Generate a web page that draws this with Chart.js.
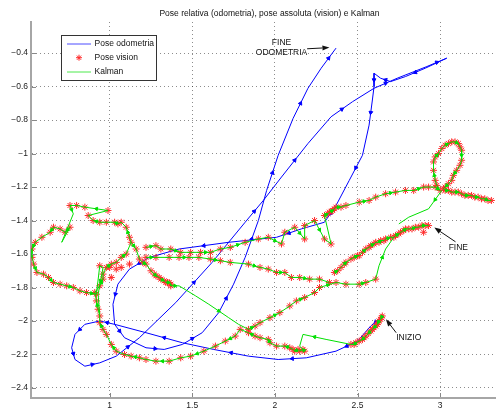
<!DOCTYPE html>
<html lang="it">
<head>
<meta charset="UTF-8">
<title>Pose relativa, pose assoluta e Kalman</title>
<script src="https://cdn.jsdelivr.net/npm/chart.js"></script>
<style>
    body { margin: 0; background: #fff; }
    #wrap { width: 500px; height: 413px; }
</style>
</head>
<body>
<div id="wrap"><canvas id="poseChart" width="500" height="413"></canvas></div>
<script>
// axis ticks
var xTicks = [1, 1.5, 2, 2.5, 3];
var yTicks = [-0.4, -0.6, -0.8, -1, -1.2, -1.4, -1.6, -1.8, -2, -2.2, -2.4];

// odometry (blue), from INIZIO to FINE ODOMETRIA
var odoX = [2.64, 2.58, 2.50, 2.37, 2.19, 2.02, 1.84, 1.63, 1.44, 1.22, 1.03, 0.94, 0.85, 0.79, 0.77, 0.79, 0.85, 0.94, 1.04, 1.18,
            1.40, 1.62, 1.82, 1.93, 2.04, 2.20, 2.34, 2.47, 2.60, 2.74, 2.92, 3.04, 2.91, 2.79, 2.70, 2.64, 2.60, 2.60, 2.59, 2.57,
            2.53, 2.45, 2.37, 2.30, 2.16, 2.01, 1.72, 1.42, 1.24, 1.12, 1.05, 1.02, 1.03, 1.09, 1.22, 1.33, 1.44, 1.56, 1.66, 1.75,
            1.82, 1.90, 1.95, 2.02, 2.11, 2.20, 2.28, 2.37];
var odoY = [-1.98, -2.03, -2.12, -2.18, -2.22, -2.23, -2.21, -2.17, -2.13, -2.07, -2.02, -2.00, -2.02, -2.08, -2.16, -2.23, -2.27, -2.25, -2.21, -2.10,
            -1.89, -1.65, -1.41, -1.28, -1.14, -0.94, -0.78, -0.69, -0.61, -0.55, -0.48, -0.43, -0.49, -0.54, -0.57, -0.55, -0.52, -0.60, -0.68, -0.83,
            -1.01, -1.16, -1.31, -1.41, -1.45, -1.50, -1.53, -1.57, -1.62, -1.69, -1.78, -1.90, -2.02, -2.10, -2.16, -2.17, -2.14, -2.07, -1.95, -1.78,
            -1.62, -1.40, -1.22, -1.01, -0.79, -0.61, -0.49, -0.37];

// vision poses (red stars), one pair of arrays per stretch
var startX = [2.65, 2.645, 2.64, 2.63, 2.625, 2.62, 2.61, 2.60, 2.59, 2.58, 2.565, 2.55, 2.54, 2.53, 2.51, 2.49, 2.48, 2.46];
var startY = [-1.97, -1.98, -1.99, -2.00, -2.01, -2.02, -2.03, -2.04, -2.05, -2.06, -2.075, -2.09, -2.10, -2.11, -2.12, -2.13, -2.14, -2.14];
var bottomMidX = [2.18, 2.17, 2.15, 2.14, 2.12, 2.11, 2.09, 2.06, 2.01, 1.97, 1.96, 1.91, 1.88, 1.84, 1.79];
var bottomMidY = [-2.18, -2.17, -2.18, -2.17, -2.18, -2.17, -2.16, -2.15, -2.15, -2.13, -2.11, -2.10, -2.09, -2.07, -2.05];
var uturnX = [1.76, 1.70, 1.64, 1.57, 1.49, 1.43, 1.36, 1.28, 1.22, 1.18, 1.13, 1.09, 1.04, 1.01, 0.98, 0.96, 0.94];
var uturnY = [-2.09, -2.12, -2.15, -2.18, -2.21, -2.22, -2.24, -2.24, -2.23, -2.22, -2.21, -2.20, -2.18, -2.14, -2.08, -2.05, -2.01];
var climbX = [0.94, 0.93, 0.92, 0.91, 0.94, 0.96, 0.96, 0.98, 1.01, 1.04, 1.07, 1.10];
var climbY = [-1.97, -1.93, -1.88, -1.83, -1.79, -1.75, -1.72, -1.68, -1.66, -1.65, -1.62, -1.60];
var topArcX = [0.90, 0.94, 0.98, 1.03, 1.05, 1.07, 1.10, 1.12, 1.13];
var topArcY = [-1.40, -1.41, -1.41, -1.41, -1.42, -1.41, -1.44, -1.50, -1.53];
var topLeftX = [0.76, 0.80, 0.85, 0.99, 0.87];
var topLeftY = [-1.31, -1.31, -1.32, -1.34, -1.37];
var leftX = [0.76, 0.73, 0.70, 0.66, 0.64, 0.59, 0.55, 0.53, 0.53, 0.54, 0.56, 0.60, 0.63];
var leftY = [-1.44, -1.47, -1.45, -1.44, -1.47, -1.50, -1.53, -1.57, -1.62, -1.66, -1.71, -1.72, -1.74];
var loopBottomX = [0.66, 0.70, 0.74, 0.78, 0.82, 0.86, 0.92];
var loopBottomY = [-1.77, -1.78, -1.79, -1.80, -1.82, -1.83, -1.84];
var looseX = [0.94, 1.00, 1.04, 1.07, 1.12, 1.01, 2.90];
var looseY = [-1.67, -1.68, -1.69, -1.68, -1.66, -1.74, -1.47];
var crossX = [1.16, 1.18, 1.20, 1.22, 1.25, 1.27, 1.28, 1.30, 1.31, 1.33, 1.34, 1.35, 1.36, 1.37, 1.37];
var crossY = [-1.57, -1.63, -1.65, -1.66, -1.70, -1.72, -1.73, -1.74, -1.75, -1.76, -1.77, -1.77, -1.77, -1.78, -1.79];
var riseX = [1.84, 1.88, 1.91, 1.97, 2.03, 2.09, 2.13, 2.18, 2.24, 2.27];
var riseY = [-2.05, -2.03, -2.01, -1.98, -1.95, -1.91, -1.88, -1.86, -1.83, -1.80];
var lowLeftX = [1.22, 1.28, 1.36, 1.42, 1.48, 1.54, 1.61, 1.67, 1.73, 1.84, 1.91, 1.96, 2.01, 2.06, 2.10, 2.15, 2.21, 2.27, 2.33];
var lowLeftY = [-1.62, -1.62, -1.62, -1.62, -1.62, -1.62, -1.63, -1.64, -1.65, -1.66, -1.68, -1.69, -1.71, -1.71, -1.74, -1.74, -1.75, -1.75, -1.77];
var lowRightX = [2.37, 2.43, 2.51, 2.55, 2.61];
var lowRightY = [-1.77, -1.78, -1.78, -1.77, -1.75];
var midX = [1.22, 1.28, 1.31, 1.37, 1.43, 1.49, 1.55, 1.61, 1.67, 1.73, 1.82, 1.90, 1.96, 2.04, 2.06, 2.12, 2.18, 2.18, 2.24, 2.30,
            2.34, 2.30, 2.32, 2.33, 2.34, 2.35, 2.36, 2.37, 2.40, 2.43, 2.51, 2.57, 2.61, 2.67, 2.73, 2.79, 2.84, 2.90, 2.93, 2.97];
var midY = [-1.56, -1.55, -1.57, -1.57, -1.59, -1.59, -1.59, -1.59, -1.57, -1.56, -1.53, -1.51, -1.50, -1.54, -1.47, -1.44, -1.51, -1.43, -1.40, -1.51,
            -1.54, -1.37, -1.36, -1.35, -1.345, -1.34, -1.33, -1.32, -1.32, -1.31, -1.29, -1.28, -1.26, -1.24, -1.23, -1.22, -1.22, -1.20, -1.20, -1.20];
var fineX = [2.36, 2.38, 2.40, 2.42, 2.43, 2.46, 2.48, 2.50, 2.51, 2.53, 2.55, 2.57, 2.58, 2.60, 2.61, 2.63, 2.64, 2.66, 2.67, 2.70,
             2.72, 2.73, 2.75, 2.76, 2.78, 2.79, 2.81, 2.83, 2.85, 2.87, 2.89, 2.91, 2.93];
var fineY = [-1.71, -1.70, -1.68, -1.66, -1.65, -1.63, -1.62, -1.61, -1.61, -1.59, -1.57, -1.56, -1.55, -1.54, -1.53, -1.53, -1.52, -1.52, -1.51, -1.50,
             -1.50, -1.49, -1.48, -1.47, -1.46, -1.45, -1.45, -1.45, -1.44, -1.44, -1.43, -1.43, -1.43];
var loopX = [3.00, 2.98, 2.97, 2.96, 2.96, 2.97, 2.99, 3.01, 3.03, 3.05, 3.07, 3.09, 3.11, 3.12, 3.13, 3.13, 3.12, 3.10, 3.08, 3.07, 3.05, 3.03];
var loopY = [-1.22, -1.19, -1.16, -1.10, -1.05, -1.02, -1.00, -0.97, -0.95, -0.94, -0.93, -0.93, -0.94, -0.96, -0.98, -1.04, -1.07, -1.10, -1.13, -1.16, -1.18, -1.20];
var rightX = [3.02, 3.03, 3.05, 3.07, 3.09, 3.11, 3.13, 3.15, 3.17, 3.19, 3.21, 3.23, 3.25, 3.27, 3.29, 3.31];
var rightY = [-1.21, -1.22, -1.22, -1.23, -1.23, -1.23, -1.24, -1.25, -1.25, -1.25, -1.26, -1.26, -1.27, -1.27, -1.28, -1.28];

// Kalman jumps where the filter leaves the vision track
var jumpAX = [2.31, 2.17, 2.15];
var jumpAY = [-2.11, -2.08, -2.15];
var jumpBX = [0.78, 0.71];
var jumpBY = [-1.36, -1.53];
var jumpCX = [0.94, 0.96, 0.93, 0.94];
var jumpCY = [-1.67, -1.68, -1.84, -1.96];
var jumpDX = [1.42, 1.52, 1.60, 1.72, 1.78];
var jumpDY = [-1.79, -1.85, -1.90, -1.98, -2.02];
var jumpEX = [2.63, 2.67, 2.72];
var jumpEY = [-1.67, -1.57, -1.50];
var jumpFX = [3.01, 2.93, 2.81, 2.75];
var jumpFY = [-1.22, -1.33, -1.38, -1.42];

// labels
var notes = [
    { text: ['FINE', 'ODOMETRIA'], x: 2.04, y: -0.34, fromX: 2.195, fromY: -0.374, toX: 2.33, toY: -0.367 },
    { text: ['FINE'], x: 3.11, y: -1.56, fromX: 3.093, fromY: -1.527, toX: 2.965, toY: -1.442 },
    { text: ['INIZIO'], x: 2.81, y: -2.10, fromX: 2.734, fromY: -2.070, toX: 2.672, toY: -1.990 }
];

var FONT = "'Liberation Sans', Arial, Helvetica, sans-serif";
var BLUE = '#0000ff', RED = '#ff2a2a', GREEN = '#00e000';

function pts(xs, ys) {
    return xs.map(function (x, i) { return { x: x, y: ys[i] }; });
}
function rev(a) { return a.slice().reverse(); }

// arrow heads every `step` points, pointing to the next point
function heads(path, step) {
    var out = [], rot = [];
    for (var i = 0; i < path.length - 1; i += step) {
        var dx = path[i + 1].x - path[i].x, dy = path[i + 1].y - path[i].y;
        out.push({ x: (path[i].x + path[i + 1].x) / 2, y: (path[i].y + path[i + 1].y) / 2 });
        rot.push(Math.atan2(dx, dy) * 180 / Math.PI);
    }
    return { data: out, rot: rot };
}

var odoPath = pts(odoX, odoY);

var visionPts = [].concat(
    pts(startX, startY), pts(bottomMidX, bottomMidY), pts(uturnX, uturnY), pts(climbX, climbY),
    pts(topArcX, topArcY), pts(topLeftX, topLeftY), pts(leftX, leftY), pts(loopBottomX, loopBottomY),
    pts(looseX, looseY), pts(crossX, crossY), pts(riseX, riseY), pts(lowLeftX, lowLeftY),
    pts(lowRightX, lowRightY), pts(midX, midY), pts(fineX, fineY), pts(loopX, loopY), pts(rightX, rightY)
);

var kalmanPaths = [
    [].concat(pts(startX, startY), pts(jumpAX, jumpAY), pts(bottomMidX, bottomMidY), pts(uturnX, uturnY),
              pts(climbX, climbY), rev(pts(topArcX, topArcY)), rev(pts(topLeftX, topLeftY)), pts(jumpBX, jumpBY),
              pts(leftX, leftY), pts(loopBottomX, loopBottomY), pts(jumpCX, jumpCY)),
    [].concat(pts(topArcX, topArcY).slice(-1), pts(crossX, crossY), pts(jumpDX, jumpDY), pts(riseX, riseY),
              pts(lowRightX, lowRightY), pts(jumpEX, jumpEY)),
    pts(lowLeftX, lowLeftY),
    [].concat(pts(midX, midY), pts(loopX, loopY), pts(rightX, rightY)),
    pts(jumpFX, jumpFY),
    pts(fineX, fineY)
];

var datasets = [];

kalmanPaths.forEach(function (p) {
    datasets.push({ data: p, showLine: true, borderColor: GREEN, borderWidth: 1, pointRadius: 0, order: 1 });
    var h = heads(p, 3);
    datasets.push({
        data: h.data, showLine: false, pointStyle: 'triangle', pointRadius: 2,
        pointRotation: h.rot, backgroundColor: GREEN, borderColor: GREEN, borderWidth: 1, order: 1
    });
});

datasets.push({
    data: visionPts, showLine: false, pointStyle: 'star', pointRadius: 3.5,
    borderColor: RED, backgroundColor: RED, borderWidth: 1, order: 2
});

datasets.push({ data: odoPath, showLine: true, borderColor: BLUE, borderWidth: 1, pointRadius: 0, order: 3 });
var odoHeads = heads(odoPath, 2);
datasets.push({
    data: odoHeads.data, showLine: false, pointStyle: 'triangle', pointRadius: 2.2,
    pointRotation: odoHeads.rot, backgroundColor: BLUE, borderColor: BLUE, borderWidth: 1, order: 3
});

function tickText(v) {
    return (v < 0 ? '\u2212' : '') + Math.abs(v);
}

// title, legend box, inward ticks and arrow labels
var decorations = {
    id: 'decorations',
    afterDraw: function (chart) {
        var ctx = chart.ctx, xs = chart.scales.x, ys = chart.scales.y, area = chart.chartArea;
        ctx.save();

        // inward tick marks
        ctx.strokeStyle = '#888';
        ctx.lineWidth = 1;
        ctx.beginPath();
        xTicks.forEach(function (v) {
            var px = Math.round(xs.getPixelForValue(v)) + 0.5;
            ctx.moveTo(px, area.bottom - 1); ctx.lineTo(px, area.bottom - 5);
        });
        yTicks.forEach(function (v) {
            var py = Math.round(ys.getPixelForValue(v)) + 0.5;
            ctx.moveTo(area.left + 1, py); ctx.lineTo(area.left + 5, py);
        });
        ctx.stroke();

        // title
        ctx.fillStyle = '#111';
        ctx.font = '8.5px ' + FONT;
        ctx.textAlign = 'center';
        ctx.textBaseline = 'middle';
        ctx.fillText('Pose relativa (odometria), pose assoluta (vision) e Kalman', 269.5, 13.5);

        // legend
        var lx = area.left + 30, ly = 35;
        ctx.fillStyle = '#fff';
        ctx.fillRect(lx, ly, 95, 45);
        ctx.strokeStyle = '#333';
        ctx.strokeRect(lx + 0.5, ly + 0.5, 95, 45);
        var rows = [
            { label: 'Pose odometria', color: BLUE, kind: 'line' },
            { label: 'Pose vision', color: RED, kind: 'star' },
            { label: 'Kalman', color: GREEN, kind: 'line' }
        ];
        rows.forEach(function (r, i) {
            var yy = ly + 8.5 + i * 14.2;
            ctx.strokeStyle = r.color;
            ctx.globalAlpha = r.kind === 'line' ? 0.7 : 1;
            ctx.lineWidth = 1;
            ctx.beginPath();
            if (r.kind === 'line') {
                ctx.moveTo(lx + 6, Math.round(yy)); ctx.lineTo(lx + 30, Math.round(yy));
            } else {
                var cx = lx + 18, s = 3;
                ctx.moveTo(cx - s, yy); ctx.lineTo(cx + s, yy);
                ctx.moveTo(cx, yy - s); ctx.lineTo(cx, yy + s);
                ctx.moveTo(cx - s * 0.7, yy - s * 0.7); ctx.lineTo(cx + s * 0.7, yy + s * 0.7);
                ctx.moveTo(cx - s * 0.7, yy + s * 0.7); ctx.lineTo(cx + s * 0.7, yy - s * 0.7);
            }
            ctx.stroke();
            ctx.globalAlpha = 1;
            ctx.fillStyle = '#111';
            ctx.textAlign = 'left';
            ctx.fillText(r.label, lx + 33.5, yy);
        });

        // arrow labels
        notes.forEach(function (n) {
            ctx.fillStyle = '#111';
            ctx.textAlign = 'center';
            var tx = xs.getPixelForValue(n.x), ty = ys.getPixelForValue(n.y);
            n.text.forEach(function (t, i) { ctx.fillText(t, tx, ty + i * 10); });
            var x1 = xs.getPixelForValue(n.fromX), y1 = ys.getPixelForValue(n.fromY);
            var x2 = xs.getPixelForValue(n.toX), y2 = ys.getPixelForValue(n.toY);
            var a = Math.atan2(y2 - y1, x2 - x1), L = 7, W = 2.6;
            ctx.strokeStyle = '#111';
            ctx.lineWidth = 1;
            ctx.beginPath();
            ctx.moveTo(x1, y1);
            ctx.lineTo(x2 - L * Math.cos(a), y2 - L * Math.sin(a));
            ctx.stroke();
            ctx.beginPath();
            ctx.moveTo(x2, y2);
            ctx.lineTo(x2 - L * Math.cos(a) + W * Math.sin(a), y2 - L * Math.sin(a) - W * Math.cos(a));
            ctx.lineTo(x2 - L * Math.cos(a) - W * Math.sin(a), y2 - L * Math.sin(a) + W * Math.cos(a));
            ctx.closePath();
            ctx.fill();
        });
        ctx.restore();
    }
};

var tickFont = { family: FONT, size: 8.5 };

new Chart(document.getElementById('poseChart'), {
    type: 'scatter',
    data: { datasets: datasets },
    options: {
        responsive: false,
        animation: false,
        events: [],
        layout: { padding: { top: 22, right: 0, bottom: 0, left: 0 } },
        plugins: {
            legend: { display: false },
            tooltip: { enabled: false },
            title: { display: false }
        },
        scales: {
            x: {
                type: 'linear',
                min: 0.524,
                max: 3.332,
                afterBuildTicks: function (axis) { axis.ticks = xTicks.map(function (v) { return { value: v }; }); },
                afterFit: function (axis) { axis.height = 15; },
                ticks: { font: tickFont, color: '#222', padding: 3, maxRotation: 0, autoSkip: false, callback: tickText },
                grid: { color: 'rgba(0,0,0,0.45)', lineWidth: 1, drawTicks: false },
                border: { display: true, color: '#a6a6a6', width: 2, dash: [1, 3] }
            },
            y: {
                type: 'linear',
                min: -2.46,
                max: -0.214,
                afterBuildTicks: function (axis) { axis.ticks = yTicks.map(function (v) { return { value: v }; }); },
                afterFit: function (axis) { axis.width = 31; },
                ticks: { font: tickFont, color: '#222', padding: 3, autoSkip: false, callback: tickText },
                grid: { color: 'rgba(0,0,0,0.45)', lineWidth: 1, drawTicks: false },
                border: { display: true, color: '#a6a6a6', width: 2, dash: [1, 3] }
            }
        }
    },
    plugins: [decorations]
});
</script>
</body>
</html>
